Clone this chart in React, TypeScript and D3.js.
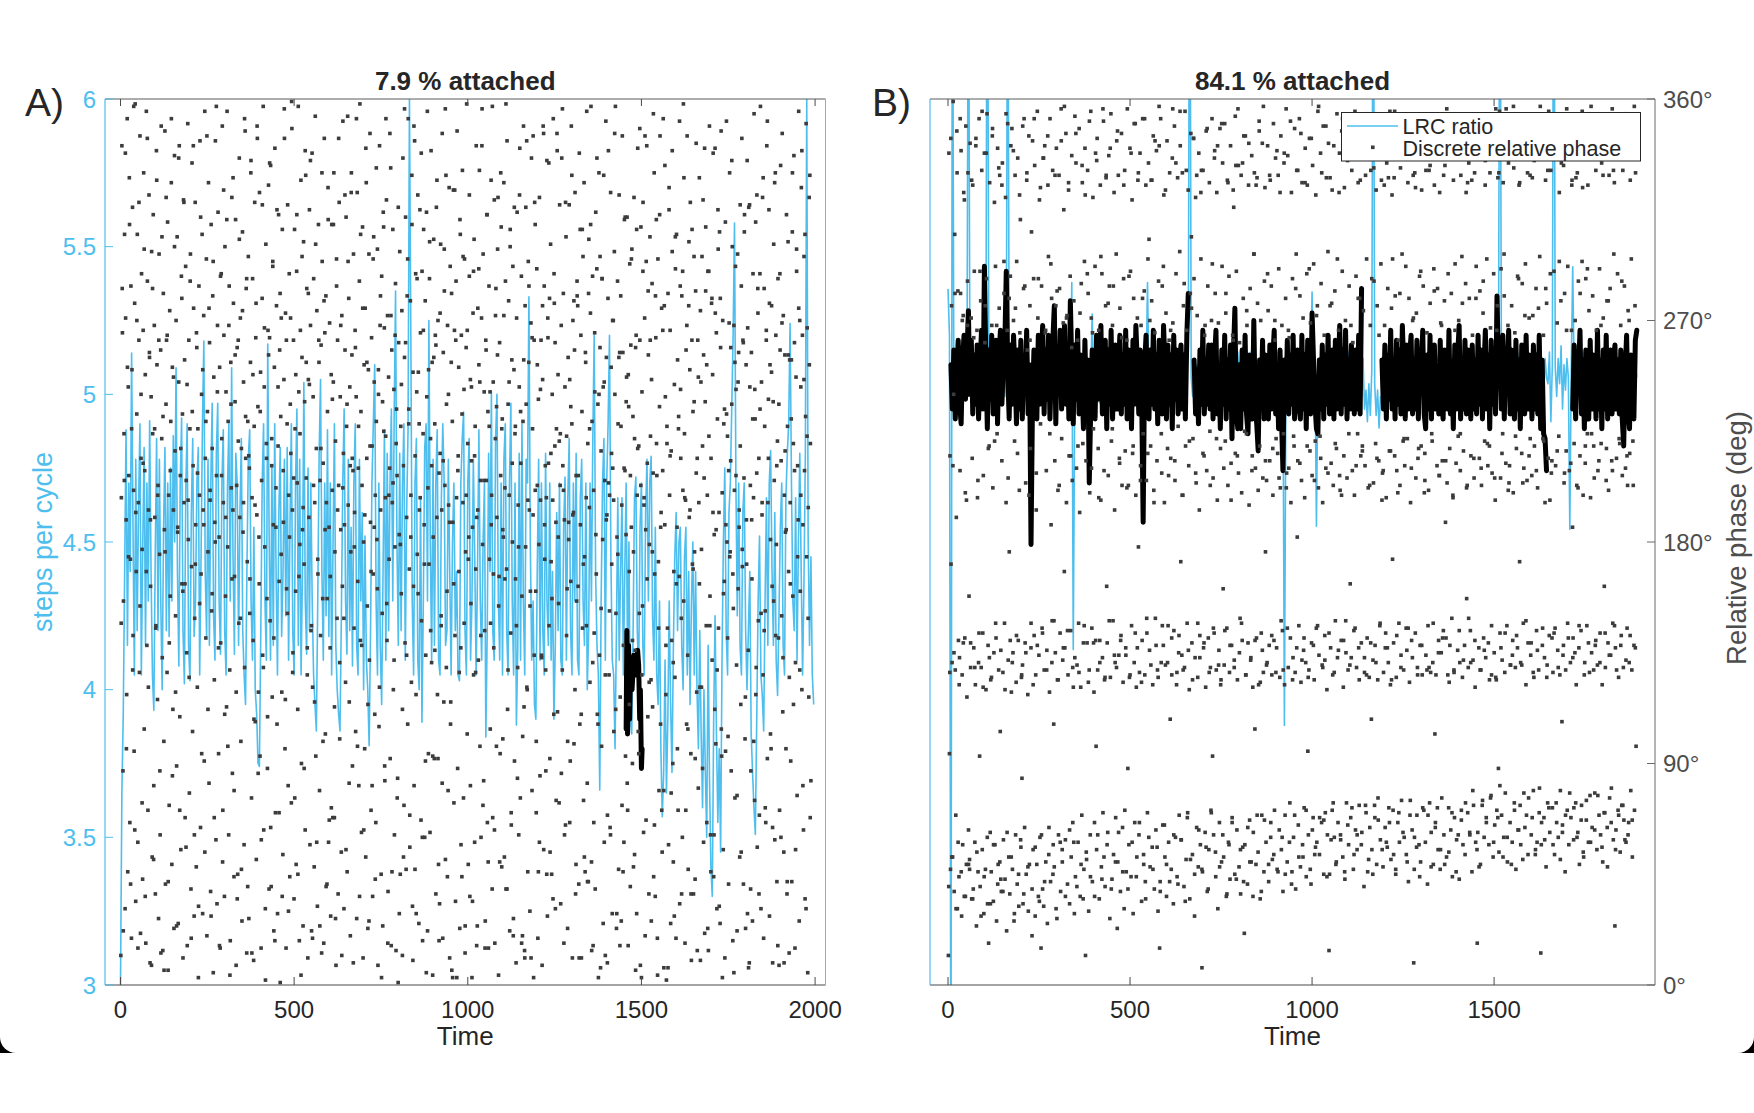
import * as d3 from "d3";

const W = 1754;
const H = 1113;
const TOP = 99;
const BOTTOM = 985;
const BLUE = "#4DBEEE";
const DOT = "#3c3c3c";
const INK = "#262626";
const FONT = "'Liberation Sans', Arial, Helvetica, sans-serif";

// axes ticks
const TICKS_A_X = [0, 500, 1000, 1500, 2000];
const TICKS_A_Y = [3, 3.5, 4, 4.5, 5, 5.5, 6];
const TICKS_B_X = [0, 500, 1000, 1500];
const TICKS_B_PHASE = [0, 90, 180, 270, 360];

// LRC ratio A (steps per cycle x100), every 4 time units from t = 0
const LRC_A = `
300 365 392 440 488 415 470 440 514 455 405 478 420 462 490 405 448 482 415 470
430 491 440 405 393 445 485 420 478 430 400 455 482 420 470 418 475 430 486 450
509 440 408 470 492 420 402 468 490 415 403 460 485 418 430 470 482 405 445 490
518 440 418 478 415 470 497 425 410 480 497 430 412 470 488 420 405 468 490 430
509 445 412 480 470 415 460 485 420 405 395 440 478 488 430 410 455 400 392 375
374 420 470 490 430 410 517 452 410 476 415 490 440 405 460 482 418 440 478 425
482 410 455 490 420 405 470 495 415 478 405 440 504 430 412 475 420 470 430 405
395 386 430 480 505 440 410 470 425 488 418 470 405 450 490 415 400 392 386 425
470 495 430 412 478 420 455 408 470 490 415 405 478 430 460 400 452 410 400 381
420 470 490 510 430 405 470 415 395 440 488 410 480 420 470 495 430 492 535 450
415 480 420 470 490 410 460 488 600 520 430 405 470 485 410 400 465 389 430 482
490 430 525 450 410 478 415 470 488 410 405 465 490 470 415 420 478 440 405 450
470 420 440 405 403 470 485 494 420 405 470 485 410 430 478 445 405 440 488 430
410 450 470 384 420 480 440 501 420 410 485 500 430 410 470 405 478 490 420 405
470 497 430 405 470 388 415 480 410 490 430 405 478 470 533 450 410 430 395 390
440 478 410 470 420 405 480 430 415 470 410 440 390 415 460 420 470 410 405 455
472 410 465 485 420 405 470 430 480 410 405 465 478 430 415 470 400 420 470 430
485 520 440 415 405 366 430 470 485 410 470 490 520 445 410 405 380 420 465 410
440 465 405 440 470 410 450 390 385 420 465 472 420 405 455 470 415 405 460 478
430 470 479 425 410 455 405 395 430 380 357 372 410 365 390 430 395 372 415 445
460 420 450 455 415 400 445 455 405 440 395 430 450 405 440 400 380 420 385 360
400 372 350 415 370 340 330 390 425 385 355 380 345 410 450 475 420 405 460 470
495 520 558 470 425 470 415 405 460 470 420 400 420 440 385 372 360 351 390 430
452 405 398 386 430 465 415 470 481 440 415 460 410 398 425 455 470 415 405 465
480 490 524 470 430 420 465 410 450 480 440 405 436 480 600 452 415 445 405 395`;

// attached segment in A (time, relative phase deg)
const ATTACH_A_T = [1456, 1458, 1460, 1463, 1466, 1469, 1473, 1478, 1484, 1489, 1492, 1495, 1497, 1500, 1502];
const ATTACH_A_DEG = [104, 144, 102, 138, 108, 132, 120, 134, 126, 136, 130, 108, 120, 88, 96];

// discrete relative phase A (deg), two sample sets spread over the recording
const PHASE_A = `
012 198 341 265 087 156 224 305 031 271 189 118 352 046 243 207 328 066 173 284
019 250 316 142 201 095 277 358 034 168 232 305 058 196 262 127 345 021 214 289
177 043 266 330 104 209 248 017 355 138 286 071 193 321 255 009 162 239 298 052
224 313 081 268 190 037 146 339 252 116 203 027 297 175 061 258 349 222 133 014
281 099 185 347 041 236 262 127 310 006 199 073 274 158 229 326 049 251 112 193
023 337 217 150 270 089 304 186 025 245 341 109 207 055 288 163 232 011 319 196
254 068 292 205 135 016 350 181 262 078 226 297 039 170 334 103 211 275 028 149
318 187 048 259 121 226 003 284 199 343 064 167 240 305 029 193 272 091 355 214
141 295 020 233 176 326 082 261 197 038 309 152 218 280 005 247 124 188 343 059
207 033 268 314 094 182 251 015 139 289 222 349 071 196 264 036 300 158 241 113
355 178 229 061 284 128 018 253 202 320 086 193 277 044 166 237 311 008 203 259
045 262 147 336 190 271 099 218 026 306 184 245 057 129 347 214 283 013 172 229
296 027 210 165 253 335 076 198 287 140 010 227 318 107 263 051 191 344 235 119
182 322 093 249 015 205 279 134 357 063 243 178 031 301 220 157 088 266 325 039
263 148 333 040 211 117 294 187 022 251 340 070 202 276 106 029 219 313 164 258
001 231 271 119 307 053 188 246 344 096 273 015 161 228 317 081 199 289 044 236
216 074 348 193 135 262 035 307 226 160 049 290 204 112 357 241 018 179 266 327
090 255 185 024 302 171 237 063 329 206 283 126 011 246 190 315 057 268 144 022
338 121 239 287 048 196 353 093 218 274 032 167 309 253 079 205 142 260 013 294
157 212 017 344 265 102 280 196 041 233 324 058 186 269 137 028 248 309 201 068
245 330 068 176 221 008 295 149 262 037 203 318 100 239 185 054 272 162 351 216
031 187 258 123 312 227 046 353 195 279 115 243 020 176 330 256 089 209 297 145
192 266 103 239 027 322 164 210 081 286 358 140 233 062 203 308 011 180 252 096
275 052 326 214 154 023 250 297 132 346 188 071 263 219 036 167 304 245 110 199
066 229 181 299 008 240 105 341 268 193 045 288 151 024 314 225 267 083 198 352
319 140 272 038 247 173 210 092 332 016 258 196 307 120 242 061 178 285 014 234
207 084 001 261 183 298 045 227 159 274 012 336 211 073 255 139 312 047 190 280
106 352 234 169 056 278 199 123 309 032 249 162 081 343 215 289 029 241 175 321
249 025 193 315 265 067 148 290 018 224 307 187 060 278 134 005 239 355 202 094
171 287 062 222 339 131 253 004 182 303 092 228 264 037 316 190 118 270 049 208
033 216 301 146 193 346 019 257 115 282 203 051 329 236 160 268 079 195 324 011
292 115 253 006 229 188 323 074 266 142 034 286 198 347 088 215 251 127 023 305
137 264 044 331 196 076 242 295 013 176 259 358 102 220 049 182 288 036 246 155
213 003 186 273 126 303 058 227 169 341 190 024 275 132 252 331 097 205 060 271
356 179 297 083 241 144 026 262 205 313 066 233 015 284 173 241 147 327 199 039
068 245 137 319 017 222 283 097 190 256 320 004 166 261 094 207 308 048 230 185
182 326 052 202 286 039 169 343 112 236 278 199 022 307 143 065 254 180 292 027
250 091 224 165 009 271 314 129 195 061 243 340 076 212 288 158 020 229 349 113
014 276 178 236 343 120 046 294 253 193 030 160 269 336 079 226 191 003 262 318
309 160 070 291 203 019 238 179 320 085 197 262 133 008 246 349 055 284 173 211
087 198 335 028 263 212 146 279 054 301 172 045 240 197 352 110 277 219 031 188
226 346 111 248 155 074 317 203 033 268 336 128 211 281 017 189 243 065 304 142
161 023 255 188 317 246 091 164 349 228 011 270 192 098 258 322 037 207 156 280
276 207 041 338 106 187 264 011 233 145 296 075 326 174 046 253 198 355 082 220
042 303 194 123 273 357 050 229 288 016 201 143 265 039 314 167 291 110 236 003
330 134 259 007 217 097 287 181 243 329 058 205 012 351 255 191 069 279 204 126
199 064 322 251 171 029 210 270 103 298 240 357 151 023 182 286 228 047 321 257
117 280 026 195 345 257 138 058 311 209 093 183 247 312 071 016 235 168 293 040
260 186 299 090 231 048 320 222 136 006 264 029 199 340 103 219 151 262 008 308
003 241 154 318 062 198 271 020 185 294 341 212 109 256 037 179 304 223 124 246
285 113 208 044 330 167 036 263 311 207 019 295 172 079 235 345 106 192 275 054
209 352 079 276 187 239 118 002 227 145 281 057 324 199 266 025 217 140 339 090
050 168 244 125 291 019 305 186 254 071 231 166 033 284 214 149 280 060 201 358
328 224 017 197 258 106 345 134 047 276 190 250 318 094 010 262 171 233 037 296
176 043 282 342 119 214 262 080 196 328 121 010 245 177 296 088 319 256 206 021
237 308 146 066 199 290 014 223 349 158 061 214 277 132 248 338 044 183 112 273
098 265 031 230 315 145 192 306 025 259 347 093 200 270 055 228 164 011 310 187
351 180 223 101 041 269 330 176 213 087 236 300 018 153 268 201 076 292 242 130
022 297 161 257 193 052 219 114 284 344 170 262 041 206 313 100 023 252 171 335
267 136 316 009 243 203 087 257 165 026 289 198 354 075 230 310 129 208 056 283
148 214 069 289 357 031 245 191 320 126 019 283 227 152 066 262 341 092 196 238
315 028 252 181 096 276 162 009 237 301 205 059 330 264 179 042 221 287 141 008
071 258 333 213 150 346 111 272 054 199 256 184 096 313 037 227 302 168 013 254
196 091 230 042 306 158 220 337 261 015 131 247 299 077 211 189 355 026 270 160
243 324 120 264 187 063 296 209 035 231 350 174 267 005 194 117 252 329 220 083`;
const PHASE_A_SPAN = [1, 1988];

const PHASE_A2 = `
147 283 022 205 338 096 251 174 309 041 226 128 357 063 192 270 015 318 154 240
074 212 299 036 168 344 121 257 189 008 283 051 226 145 327 199 262 087 013 304
231 006 176 320 264 042 139 209 352 085 247 300 119 024 184 336 071 218 279 160
318 163 056 244 197 125 286 019 233 341 061 171 265 208 032 155 312 094 250 187
054 229 345 112 275 201 028 159 294 068 180 357 241 137 016 288 207 050 323 110
190 311 097 268 004 236 165 328 079 256 119 035 221 303 149 047 274 196 352 231
287 040 215 151 330 013 248 108 195 277 349 086 163 233 059 317 129 267 002 214
109 256 334 064 222 292 141 018 186 315 243 070 281 175 036 209 356 116 262 151
030 182 271 359 127 206 076 248 313 045 166 224 004 296 194 088 339 253 137 281
244 335 146 019 203 115 301 058 173 262 024 218 330 099 278 185 040 157 311 067
166 072 238 309 113 027 284 193 344 131 268 012 202 149 321 055 236 294 082 211
322 214 009 178 259 352 097 227 036 305 138 275 063 191 340 253 114 026 219 168
081 295 186 043 332 161 250 121 280 003 237 308 089 223 155 017 199 346 272 046
204 132 264 220 076 316 029 179 244 112 052 356 261 134 295 228 069 182 329 010
349 047 118 287 159 228 198 338 060 266 171 091 314 022 250 302 144 211 093 255
136 260 327 092 018 273 150 082 213 299 356 129 044 240 188 106 281 003 163 323
262 003 209 168 311 057 232 296 147 024 199 266 173 321 081 243 034 290 215 127
016 193 291 245 142 341 073 205 015 258 313 050 227 104 187 357 167 063 272 235
299 154 050 330 226 100 272 165 358 039 128 245 300 070 212 020 316 227 146 084
178 321 233 017 101 254 011 316 121 197 284 154 011 263 345 134 201 099 252 046
058 242 134 276 346 187 128 045 271 334 092 216 157 035 289 261 075 339 182 221
224 086 356 201 061 318 223 099 181 066 235 329 191 278 120 049 286 162 011 307
110 307 171 052 257 146 042 281 226 309 014 131 066 241 183 336 106 240 296 153
287 025 245 126 189 009 339 152 061 216 270 197 346 112 029 175 255 016 227 073
046 210 312 237 082 248 114 207 295 140 176 053 259 307 218 094 348 203 126 290
195 345 067 165 282 123 262 026 176 354 065 280 220 004 145 313 186 071 266 007
333 138 220 007 315 215 078 298 131 028 304 163 096 226 351 242 037 290 156 198
071 268 104 302 193 037 307 169 237 092 208 014 247 163 274 121 219 058 340 282
252 023 290 146 046 279 192 061 340 185 128 299 032 279 104 003 159 234 095 232
141 209 174 259 335 167 005 253 207 077 245 186 317 054 177 261 306 117 189 029
007 317 039 189 230 099 242 118 321 273 037 234 151 196 328 144 072 266 351 214
277 102 249 064 156 326 142 211 016 236 289 060 269 133 009 217 185 042 256 125
163 254 330 114 209 055 290 174 275 128 199 339 081 246 305 031 223 149 320 068`;
const PHASE_A2_SPAN = [2, 1986];

// LRC ratio B (x100), every 4 time units from t = 0
const LRC_B = `
470 455 200 610 438 445 434 448 440 436 446 438 450 440 600 448 434 442 446 436
440 448 436 442 450 438 446 620 448 436 444 438 448 440 434 446 438 450 440 436
446 600 444 436 448 434 442 450 438 434 446 440 448 436 442 450 436 434 446 440
446 436 448 440 434 442 450 438 446 436 442 448 438 434 446 438 450 440 436 444
440 446 436 448 442 472 356 436 446 440 434 448 442 436 450 440 446 436 442 462
440 448 436 446 434 442 450 438 446 436 442 448 440 434 446 440 450 436 444 438
442 448 438 446 436 450 440 434 446 442 448 436 446 440 434 450 442 472 438 446
436 446 442 450 436 440 448 442 434 446 438 450 440 436 448 442 438 446 436 448
442 436 448 440 446 450 620 442 436 448 440 446 436 450 442 434 446 440 448 436
446 440 450 436 442 448 438 446 434 442 450 440 446 436 448 442 436 446 440 450
438 446 442 434 448 440 446 436 450 442 436 446 440 448 436 444 434 446 440 448
442 436 448 440 446 436 450 442 440 434 446 332 436 448 442 440 446 436 448 442
440 448 436 446 442 436 450 440 446 442 469 438 446 395 442 448 436 446 440 448
442 436 448 440 446 436 450 442 434 446 440 448 436 446 442 450 438 446 436 442
448 440 446 442 436 448 432 438 428 440 430 444 610 440 430 438 426 436 434 446
442 448 436 446 440 450 436 442 446 438 448 442 436 446 440 450 436 446 442 440
448 436 446 442 450 436 440 448 442 436 446 440 450 436 446 442 436 448 440 446
436 446 442 450 440 436 448 442 446 436 450 440 434 446 442 448 436 446 440 450
442 436 448 440 446 436 450 442 436 446 440 448 436 446 442 450 438 446 442 615
448 440 446 436 450 442 436 448 440 446 436 450 442 436 446 440 448 442 446 436
442 450 438 446 436 448 442 440 446 436 448 442 440 450 428 446 620 445 436 448
440 452 432 446 438 448 442 394 446 477 442 436 448 440 446 436 450 442 438 446
440 448 442 436 446 450 436 446 442 440 448 436 446 442 450 438 446 440 448 442
436 446 440 448 442 436 450 440 446 442 448 436 446 442`;

// attached relative phase B (deg), every 4 time units from t = 0, --- = not attached
const ATTACH_B = `
--- --- 252 234 258 230 250 262 236 228 254 264 238 256 274 240 262 232 256 236
260 230 252 266 234 292 254 226 258 238 264 232 250 262 228 256 266 236 252 260
290 248 230 260 236 264 250 228 258 234 262 230 256 240 266 232 252 179 236 258
250 230 264 236 256 268 232 258 238 264 230 252 262 276 228 258 240 266 234 254
268 236 256 230 278 252 228 260 238 266 232 256 244 226 262 236 254 204 234 258
250 230 264 238 256 268 232 254 262 226 258 236 266 230 252 260 234 250 264 232
256 236 266 230 258 250 226 262 236 268 252 232 258 238 188 252 264 234 230 258
236 266 234 256 228 262 250 232 268 252 230 260 236 256 226 264 238 258 232 254
260 234 256 230 264 281 --- --- --- 254 232 250 228 258 236 266 232 254 236 260
234 260 230 254 266 232 250 226 258 236 264 230 254 234 260 222 256 275 232 226
252 226 258 234 264 232 224 256 238 230 270 234 228 217 254 234 262 230 256 236
230 260 234 254 266 232 250 226 258 230 209 254 234 262 232 256 236 264 230 252
258 236 230 264 234 256 226 262 250 232 273 254 236 226 224 254 234 260 230 256
236 264 232 254 258 230 262 234 250 268 232 258 236 266 230 254 234 260 250 232
258 234 264 232 283 --- --- --- --- --- --- --- --- --- --- --- --- --- 254 234
260 230 256 238 266 234 254 230 262 236 258 232 268 250 230 260 234 256 264 232
254 234 262 230 258 250 266 232 226 256 234 264 230 254 260 234 250 232 262 236
230 258 254 234 266 232 250 226 260 234 256 268 230 254 234 262 232 258 250 230
260 234 254 232 264 236 258 230 250 266 234 256 226 262 236 254 232 280 250 258
234 264 230 256 250 266 232 258 236 230 262 234 254 226 260 250 232 264 234 256
250 230 260 234 256 232 264 226 254 224 222 209 --- --- --- --- --- --- --- ---
--- --- --- --- --- --- --- --- --- 234 260 230 256 250 266 232 254 226 258 236
230 262 234 256 250 230 266 234 254 226 258 234 264 230 250 258 232 254 260 234
254 232 258 230 219 250 264 234 226 256 250 230 262 266`;

// discrete relative phase B (deg), two sample sets spread over the recording
const PHASE_B = `
012 338 094 215 047 171 276 131 052 359 240 038 305 128 069 190 347 031 282 140
044 133 209 281 339 028 126 057 272 322 036 141 200 349 049 117 268 330 063 158
051 342 129 271 035 214 325 039 137 290 058 122 344 024 266 198 046 131 352 093
040 278 129 331 055 143 207 029 338 261 047 120 287 354 033 138 017 219 326 062
124 046 268 345 202 034 135 318 057 292 141 026 224 340 049 128 275 329 103 043
038 213 334 127 059 281 147 043 320 196 022 266 350 132 052 176 037 288 341 119
348 047 135 270 026 221 329 061 123 294 041 336 140 032 201 265 311 056 125 084
130 033 283 352 064 139 204 045 327 258 118 030 345 049 276 218 137 306 020 343
055 287 142 333 028 126 193 049 355 271 036 134 319 060 228 015 284 145 039 336
032 128 341 265 050 209 136 025 325 296 064 119 352 042 187 279 148 331 057 106
048 213 135 276 340 027 124 201 061 329 283 143 038 356 222 055 132 269 315 168
137 059 346 196 272 041 126 323 215 033 288 144 052 337 205 066 121 278 029 353
044 334 210 130 262 058 147 348 192 036 121 285 069 326 220 139 047 294 340 012
213 051 139 331 281 030 128 200 061 355 271 145 042 320 226 119 066 292 338 097
055 344 128 218 266 035 140 325 197 048 289 133 070 351 209 124 040 276 329 162
139 062 207 337 284 027 125 354 221 043 268 148 053 322 193 131 068 297 343 023
050 329 134 214 275 038 142 346 203 064 123 287 031 331 217 137 046 262 356 088
203 057 125 340 290 044 146 319 216 029 279 131 066 350 199 121 052 271 327 178
061 127 338 211 268 034 140 352 224 049 282 126 042 325 205 143 070 295 334 303
136 048 219 327 278 056 122 345 201 039 265 149 063 339 213 128 030 286 357 015
042 352 131 208 284 065 138 321 196 052 130 273 036 343 218 146 058 262 330 108
214 047 126 336 269 033 144 349 205 060 289 122 044 328 227 135 069 298 341 172
059 134 330 199 276 040 129 355 219 051 266 147 070 323 211 120 035 281 346 304
139 053 222 344 287 028 133 320 204 064 272 125 048 338 193 142 057 295 331 007
046 331 137 215 264 062 121 347 209 038 284 141 055 326 225 129 071 270 352 093
206 061 143 339 281 044 128 322 197 031 269 136 066 348 218 124 050 292 334 161
052 130 350 221 273 036 145 327 203 058 288 127 043 341 212 138 068 264 323 316
132 045 216 333 290 063 124 356 208 048 261 149 037 329 200 140 056 279 345 021
057 345 126 224 268 041 139 325 195 067 283 132 050 337 215 121 062 297 330 104
210 049 141 328 277 054 122 351 219 035 270 143 069 342 206 127 046 286 324 176
058 205 131 341 274 042 138 213 327 066 284 126 051 199 350 140 071 262 336 222
137 047 216 329 291 063 125 202 345 055 268 144 038 224 334 122 069 279 356 208
050 337 129 210 263 074 141 196 322 046 287 133 060 219 348 127 039 297 331 182
213 065 146 352 280 048 123 205 326 057 271 136 072 198 340 131 044 289 325 095
061 128 344 217 269 041 139 207 333 068 293 124 053 221 321 145 058 276 355 202
134 053 223 338 285 066 130 196 349 045 264 142 070 210 328 120 061 298 342 014
045 328 137 212 277 071 126 203 341 060 282 148 049 218 354 133 066 266 322 207
201 059 140 347 290 052 121 215 324 043 270 135 074 206 335 128 057 284 350 163
068 133 331 209 261 047 144 199 355 063 288 129 055 224 326 137 073 279 343 215
139 062 219 336 274 040 127 211 329 070 295 141 046 202 349 125 064 268 331 108
055 351 132 204 286 073 138 220 323 049 276 124 067 213 340 146 059 293 327 197
208 048 127 343 268 064 143 198 334 056 283 131 072 217 355 122 051 275 321 173
071 139 328 215 280 045 125 209 347 066 262 147 058 203 332 134 075 297 344 221
128 060 211 337 292 053 136 222 326 042 279 123 069 196 351 140 063 270 329 009
047 330 143 206 273 069 129 214 342 057 288 138 050 219 323 126 072 284 348 200
216 058 134 352 265 041 146 201 331 074 277 127 062 224 338 131 049 291 325 102
066 126 339 211 283 055 140 207 322 047 269 135 076 213 354 144 061 278 333 188
141 052 204 345 289 072 123 218 336 063 281 149 044 199 327 128 068 266 350 212
059 348 136 223 270 043 131 209 329 071 296 125 057 217 341 138 053 285 322 157
203 070 129 334 279 061 144 215 352 046 264 132 073 206 330 121 058 292 345 017
062 337 137 214 282 049 128 203 347 075 273 141 060 221 325 133 068 295 353 211
139 057 219 330 267 077 126 208 341 052 289 135 065 197 356 124 071 276 328 088
054 355 143 206 291 069 132 224 326 060 280 127 078 212 343 146 050 268 334 204
211 066 130 348 276 058 140 200 332 074 265 129 047 218 351 137 063 287 325 172
073 131 342 216 285 051 147 210 353 064 293 122 069 205 330 139 076 271 346 222
134 061 207 328 272 079 125 219 345 055 283 144 058 202 339 128 070 296 357 013
057 350 138 222 264 068 133 196 327 048 277 130 074 214 355 142 062 289 331 208
213 072 127 344 290 053 145 211 336 066 269 136 060 223 322 126 079 278 349 107
065 134 333 204 281 046 128 217 356 071 292 141 057 209 340 131 068 266 327 186
141 059 220 352 270 074 122 203 330 062 286 137 049 215 346 144 073 294 324 199
052 343 131 212 287 067 146 224 325 058 274 127 077 198 357 135 064 280 338 219
206 078 138 331 266 055 130 209 348 069 291 143 061 220 334 122 050 271 353 162
070 129 347 218 278 048 139 201 329 076 283 134 066 213 356 147 059 297 326 024
137 063 214 339 289 071 125 222 352 054 268 142 073 207 331 129 067 284 345 210
058 354 145 203 274 066 131 216 327 079 295 128 052 221 343 138 071 276 330 097`;
const PHASE_B_SPAN = [1, 1890];

const PHASE_B2 = `
040 127 344 052 211 135 281 031 330 058 122 352 046 270 139 319 036 197 286 049
047 139 327 035 263 129 341 054 205 143 290 028 355 121 044 276 338 060 218 133
033 125 348 057 221 147 268 041 332 050 136 325 038 294 120 354 062 206 279 140
052 131 339 029 275 142 216 045 321 059 126 349 037 284 135 330 048 199 262 147
039 122 352 056 208 138 287 034 324 061 143 336 042 266 128 345 053 224 293 131
045 148 329 031 282 124 203 058 343 050 137 357 036 271 144 326 063 215 259 129
058 133 346 040 219 127 273 049 333 035 146 321 054 289 123 351 044 210 265 139
036 140 335 061 198 131 296 043 356 052 125 328 057 277 148 340 039 226 284 134
050 129 347 062 212 140 263 046 325 071 134 202 039 288 126 338 058 219 350 143
044 137 330 066 205 123 279 053 352 035 149 216 060 270 130 327 047 196 343 138
056 125 341 038 224 146 292 065 323 049 131 207 042 266 141 356 061 213 334 127
041 142 355 059 199 128 285 034 331 068 136 221 051 275 124 344 045 208 329 147
063 133 322 047 216 139 268 056 348 039 127 203 070 293 145 336 054 222 341 130
048 122 350 061 210 144 281 037 326 057 138 197 066 262 129 353 043 215 333 135
055 147 334 042 225 126 274 064 342 050 133 209 036 297 140 325 069 201 347 123
038 136 357 067 213 130 289 049 329 060 142 218 053 270 127 339 046 206 322 148
060 128 338 045 202 145 266 058 351 041 124 223 069 283 137 331 052 212 346 132
052 141 326 071 219 125 291 047 344 063 138 205 056 272 146 357 068 214 330 129
067 132 349 044 208 143 276 059 323 074 127 220 050 295 136 338 061 199 352 140
046 148 336 065 224 130 268 072 341 053 145 211 061 279 124 327 057 217 345 133
073 126 354 051 203 139 287 045 332 068 131 214 076 264 147 348 055 209 325 137
058 137 328 066 217 124 295 053 355 047 142 200 070 281 129 336 062 222 343 145
050 145 346 075 210 133 271 060 324 056 126 218 044 290 138 351 071 205 331 128
069 129 333 048 221 147 282 064 345 072 135 207 055 268 141 329 049 213 356 126
054 138 351 070 198 127 293 046 337 061 144 224 067 277 132 342 074 202 326 149
062 131 327 079 214 140 279 055 353 048 128 210 073 286 136 335 066 220 347 124
076 146 342 058 206 125 266 068 330 081 137 216 052 297 143 356 060 201 338 130
049 134 357 071 223 142 288 063 326 057 130 204 078 272 148 344 053 215 329 139
068 127 335 053 209 136 275 080 348 066 145 221 059 283 125 331 072 197 352 141
057 143 349 074 217 129 294 051 334 062 138 208 069 266 147 340 078 212 325 133
072 135 328 060 202 146 281 067 355 054 126 219 075 291 139 347 058 224 338 128
063 140 344 077 213 131 268 056 329 070 143 205 064 278 134 352 080 209 331 146
055 128 337 069 220 138 286 073 346 059 132 215 061 270 142 336 067 203 357 137`;
const PHASE_B2_SPAN = [2, 1888];

const nums = (s: string, k = 1) =>
  s.trim().split(/\s+/).map((v) => (v === "---" ? NaN : +v / k));

// place a phase sample set evenly over its time span
function spread(values: number[], span: number[]) {
  const n = values.length;
  return values.map((v, i) => ({ t: span[0] + (i * (span[1] - span[0])) / (n - 1), v }));
}

interface PanelCfg {
  id: string;
  letter: string;
  letterX: number;
  title: string;
  left: number;
  right: number;
  xDomain: [number, number];
  xTicks: number[];
  lrcDomain: [number, number];
  lrc: number[];
  attachT: number[];
  attachDeg: number[];
  dots: { t: number; v: number }[];
  leftTicks: boolean;
  rightTicks: boolean;
  legend: boolean;
}

const DOT_SIZE = 3.6;

function Panel({ c }: { c: PanelCfg }) {
  const x = d3.scaleLinear().domain(c.xDomain).range([c.left, c.right]);
  const yL = d3.scaleLinear().domain(c.lrcDomain).range([BOTTOM, TOP]);
  const yP = d3.scaleLinear().domain([0, 360]).range([BOTTOM, TOP]);
  const midX = (c.left + c.right) / 2;

  const lrcPath = d3
    .line<number>()
    .x((_, i) => x(i * 4))
    .y((v) => yL(v))(c.lrc);

  const attachPath = d3
    .line<number>()
    .defined((v) => !Number.isNaN(v))
    .x((_, i) => x(c.attachT[i]))
    .y((v) => yP(v))(c.attachDeg);

  return (
    <g>
      <defs>
        <clipPath id={`clip-${c.id}`}>
          <rect x={c.left} y={TOP} width={c.right - c.left} height={BOTTOM - TOP} />
        </clipPath>
      </defs>
      <g clipPath={`url(#clip-${c.id})`}>
        <path d={lrcPath ?? ""} fill="none" stroke={BLUE} strokeWidth={1.6} strokeLinejoin="round" />
        <path
          d={attachPath ?? ""}
          fill="none"
          stroke="#000"
          strokeWidth={5}
          strokeLinejoin="round"
          strokeLinecap="round"
        />
        {c.dots.map((d, i) => (
          <rect
            key={i}
            x={x(d.t) - DOT_SIZE / 2}
            y={yP(d.v) - DOT_SIZE / 2}
            width={DOT_SIZE}
            height={DOT_SIZE}
            fill={DOT}
          />
        ))}
      </g>

      {/* box */}
      <line x1={c.left} x2={c.right} y1={TOP} y2={TOP} stroke="#5a5a5a" strokeWidth={1} />
      <line x1={c.left} x2={c.right} y1={BOTTOM} y2={BOTTOM} stroke="#4a4a4a" strokeWidth={1.2} />
      <line
        x1={c.right}
        x2={c.right}
        y1={TOP}
        y2={BOTTOM}
        stroke={c.rightTicks ? "#6a6a6a" : "#a8a8a8"}
        strokeWidth={1}
      />
      <line x1={c.left} x2={c.left} y1={TOP} y2={BOTTOM} stroke={BLUE} strokeWidth={1.2} />

      {/* x ticks */}
      {c.xTicks.map((t) => (
        <g key={t}>
          <line x1={x(t)} x2={x(t)} y1={BOTTOM} y2={BOTTOM - 8} stroke="#4a4a4a" />
          <line x1={x(t)} x2={x(t)} y1={TOP} y2={TOP + 7} stroke="#4a4a4a" />
          <text x={x(t)} y={1018} textAnchor="middle" fontSize={24} fill={INK} fontFamily={FONT}>
            {t}
          </text>
        </g>
      ))}
      <text x={midX} y={1045} textAnchor="middle" fontSize={26} fill={INK} fontFamily={FONT}>
        Time
      </text>

      {c.leftTicks &&
        TICKS_A_Y.map((t) => (
          <g key={t}>
            <line x1={c.left} x2={c.left + 8} y1={yL(t)} y2={yL(t)} stroke={BLUE} />
            <text x={c.left - 9} y={yL(t) + 8.5} textAnchor="end" fontSize={24} fill={BLUE} fontFamily={FONT}>
              {t}
            </text>
          </g>
        ))}
      {c.leftTicks && (
        <text
          transform={`translate(52,${(TOP + BOTTOM) / 2}) rotate(-90)`}
          textAnchor="middle"
          fontSize={27}
          fill={BLUE}
          fontFamily={FONT}
        >
          steps per cycle
        </text>
      )}

      {c.rightTicks &&
        TICKS_B_PHASE.map((t) => (
          <g key={t}>
            <line x1={c.right} x2={c.right - 8} y1={yP(t)} y2={yP(t)} stroke="#6a6a6a" />
            <text x={c.right + 8} y={yP(t) + 8.5} fontSize={24} fill="#4d4d4d" fontFamily={FONT}>
              {`${t}°`}
            </text>
          </g>
        ))}
      {c.rightTicks && (
        <text
          transform={`translate(1746,538) rotate(-90)`}
          textAnchor="middle"
          fontSize={27.5}
          fill="#4d4d4d"
          fontFamily={FONT}
        >
          Relative phase (deg)
        </text>
      )}

      <text x={midX} y={90} textAnchor="middle" fontSize={26} fontWeight="bold" fill={INK} fontFamily={FONT}>
        {c.title}
      </text>
      <text x={c.letterX} y={116} fontSize={39} fill={INK} fontFamily={FONT}>
        {c.letter}
      </text>

      {c.legend && (
        <g fontFamily={FONT} fontSize={21.5} fill={INK}>
          <rect x={1341.5} y={112.5} width={299} height={48.5} fill="#fff" stroke={INK} strokeWidth={1} />
          <line x1={1347} x2={1398} y1={126} y2={126} stroke={BLUE} strokeWidth={1.6} />
          <text x={1402.5} y={134}>LRC ratio</text>
          <rect x={1371} y={145.5} width={DOT_SIZE} height={DOT_SIZE} fill={DOT} />
          <text x={1402.5} y={156}>Discrete relative phase</text>
        </g>
      )}
    </g>
  );
}

export default function App() {
  const attachBDeg = nums(ATTACH_B);
  const panels: PanelCfg[] = [
    {
      id: "a",
      letter: "A)",
      letterX: 25,
      title: "7.9 % attached",
      left: 105,
      right: 825.5,
      xDomain: [-44.6, 2030],
      xTicks: TICKS_A_X,
      lrcDomain: [3, 6],
      lrc: nums(LRC_A, 100),
      attachT: ATTACH_A_T,
      attachDeg: ATTACH_A_DEG,
      dots: [...spread(nums(PHASE_A), PHASE_A_SPAN), ...spread(nums(PHASE_A2), PHASE_A2_SPAN)],
      leftTicks: true,
      rightTicks: false,
      legend: false,
    },
    {
      id: "b",
      letter: "B)",
      letterX: 872,
      title: "84.1 % attached",
      left: 930,
      right: 1655,
      xDomain: [-49.5, 1942],
      xTicks: TICKS_B_X,
      lrcDomain: [2.5, 5.3],
      lrc: nums(LRC_B, 100),
      attachT: attachBDeg.map((_, i) => i * 4),
      attachDeg: attachBDeg,
      dots: [...spread(nums(PHASE_B), PHASE_B_SPAN), ...spread(nums(PHASE_B2), PHASE_B2_SPAN)],
      leftTicks: false,
      rightTicks: true,
      legend: true,
    },
  ];

  return (
    <svg
      width={W}
      height={H}
      viewBox={`0 0 ${W} ${H}`}
      style={{ position: "absolute", left: 0, top: 0, display: "block", background: "#fff" }}
    >
      {/* rounded card corners */}
      <rect x={0} y={1030} width={20} height={23} fill="#000" />
      <rect x={W - 20} y={1030} width={20} height={23} fill="#000" />
      <rect x={0} y={-40} width={W} height={1093} rx={16} fill="#fff" />
      {panels.map((p) => (
        <Panel key={p.id} c={p} />
      ))}
    </svg>
  );
}
